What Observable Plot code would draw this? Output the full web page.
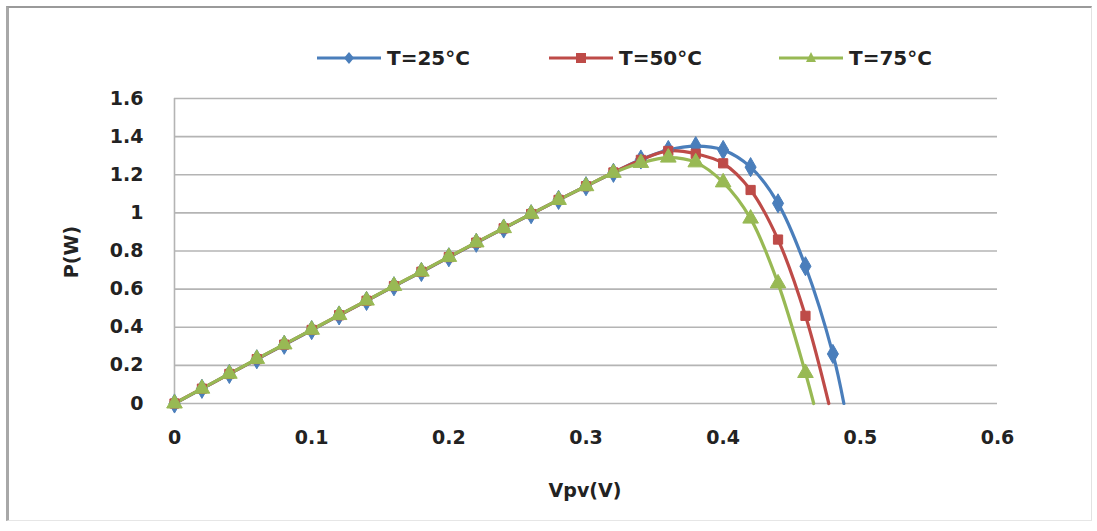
<!DOCTYPE html>
<html>
<head>
<meta charset="utf-8">
<script src="https://cdn.jsdelivr.net/npm/d3@7"></script>
<script src="https://cdn.jsdelivr.net/npm/@observablehq/plot@0.6"></script>
<style>
  html, body { margin: 0; padding: 0; background: #fff; }
  #wrap { position: relative; width: 1097px; height: 531px; overflow: hidden; background: #fff; font-family: "DejaVu Sans", sans-serif; font-weight: bold; color: #222; }
  #frame { position: absolute; left: 6px; top: 6px; width: 1082px; height: 512px; border-left: 3px solid #a8a8a8; border-top: 2px solid #9a9a9a; border-right: 1px solid #e2e2e2; border-bottom: 1px solid #e6e6e6; }
  #chart { position: absolute; left: 0; top: 80px; }
  .leg { position: absolute; top: 46px; height: 24px; display: flex; align-items: center; font-size: 20px; }
  .leg svg { margin-right: 6px; }
  #xtitle { position: absolute; left: 0; width: 1170px; top: 479px; text-align: center; font-size: 19px; }
  #ytitle { position: absolute; left: 71px; top: 252px; font-size: 19px; transform: translate(-50%, -50%) rotate(-90deg); white-space: nowrap; }
</style>
</head>
<body>
<div id="wrap">
  <div id="frame"></div>
  <div id="legend"></div>
  <div id="chart"></div>
  <div id="xtitle">Vpv(V)</div>
  <div id="ytitle">P(W)</div>
</div>
<script>
// ---- data ----
const seriesNames = ["T=25°C", "T=50°C", "T=75°C"];
const seriesColors = ["#4A7EBB", "#BE4B48", "#98B954"];
const seriesSymbols = ["diamond", "square", "triangle"];

const voltage25 = [0,0.02,0.04,0.06,0.08,0.10,0.12,0.14,0.16,0.18,0.20,0.22,0.24,0.26,0.28,0.30,0.32,0.34,0.36,0.38,0.40,0.42,0.44,0.46,0.48,0.488];
const power25   = [0,0.077,0.155,0.232,0.308,0.385,0.462,0.538,0.615,0.690,0.767,0.843,0.918,0.993,1.068,1.140,1.210,1.280,1.330,1.350,1.330,1.240,1.050,0.720,0.260,0];

const voltage50 = [0,0.02,0.04,0.06,0.08,0.10,0.12,0.14,0.16,0.18,0.20,0.22,0.24,0.26,0.28,0.30,0.32,0.34,0.36,0.38,0.40,0.42,0.44,0.46,0.477];
const power50   = [0,0.078,0.155,0.233,0.309,0.386,0.463,0.539,0.616,0.691,0.768,0.844,0.919,0.994,1.068,1.140,1.212,1.278,1.325,1.310,1.260,1.120,0.860,0.460,0];

const voltage75 = [0,0.02,0.04,0.06,0.08,0.10,0.12,0.14,0.16,0.18,0.20,0.22,0.24,0.26,0.28,0.30,0.32,0.34,0.36,0.38,0.40,0.42,0.44,0.46,0.466];
const power75   = [0,0.078,0.156,0.234,0.310,0.387,0.464,0.540,0.617,0.692,0.769,0.845,0.920,0.995,1.068,1.140,1.210,1.262,1.290,1.265,1.160,0.970,0.630,0.160,0];

const xTicks = [0, 0.1, 0.2, 0.3, 0.4, 0.5, 0.6];
const yTicks = [0, 0.2, 0.4, 0.6, 0.8, 1, 1.2, 1.4, 1.6];

// ---- build table ----
const voltages = [voltage25, voltage50, voltage75];
const powers = [power25, power50, power75];
const rows = [];
seriesNames.forEach((s, i) => {
  voltages[i].forEach((v, j) => {
    rows.push({series: s, v, p: powers[i][j], end: j === voltages[i].length - 1});
  });
});

const marks = [
  Plot.gridY(yTicks, {stroke: "#b4b4b4", strokeOpacity: 1, strokeWidth: 1.6}),
  Plot.ruleX([0], {stroke: "#b4b4b4", strokeWidth: 1.6}),
  Plot.axisX(xTicks, {tickSize: 0, tickPadding: 27, label: null, tickFormat: d => String(d)}),
  Plot.axisY(yTicks, {tickSize: 0, tickPadding: 31, label: null, tickFormat: d => String(d)})
];
seriesNames.forEach((s, i) => {
  const data = rows.filter(r => r.series === s);
  marks.push(Plot.line(data, {x: "v", y: "p", stroke: seriesColors[i], strokeWidth: 3.2, curve: "catmull-rom"}));
});
seriesNames.forEach((s, i) => {
  const data = rows.filter(r => r.series === s && !r.end);
  marks.push(Plot.dot(data, {x: "v", y: "p", symbol: () => seriesSymbols[i], fill: seriesColors[i], stroke: seriesColors[i], strokeWidth: 1, r: i === 1 ? 5.2 : 5.8}));
});

const chart = Plot.plot({
  width: 1097,
  height: 420,
  marginLeft: 174,
  marginRight: 100,
  marginTop: 18,
  marginBottom: 97,
  x: {domain: [0, 0.6]},
  y: {domain: [0, 1.6]},
  style: {fontFamily: "DejaVu Sans, sans-serif", fontSize: "19px", fontWeight: "bold", color: "#222", background: "transparent"},
  marks
});
document.getElementById("chart").appendChild(chart);

// ---- legend ----
const legendLeft = [317, 549, 779];
const legend = document.getElementById("legend");
seriesNames.forEach((s, i) => {
  const item = document.createElement("div");
  item.className = "leg";
  item.style.left = legendLeft[i] + "px";
  const c = seriesColors[i];
  let shape;
  if (seriesSymbols[i] === "diamond") shape = `<path d="M32,6 L37,12 L32,18 L27,12 Z" fill="${c}"/>`;
  else if (seriesSymbols[i] === "square") shape = `<rect x="27" y="7" width="10" height="10" fill="${c}"/>`;
  else shape = `<path d="M32,6 L37,16 L27,16 Z" fill="${c}"/>`;
  item.innerHTML = `<svg width="64" height="24"><line x1="0" x2="64" y1="12" y2="12" stroke="${c}" stroke-width="3"/>${shape}</svg><span>${s}</span>`;
  legend.appendChild(item);
});
</script>
</body>
</html>
